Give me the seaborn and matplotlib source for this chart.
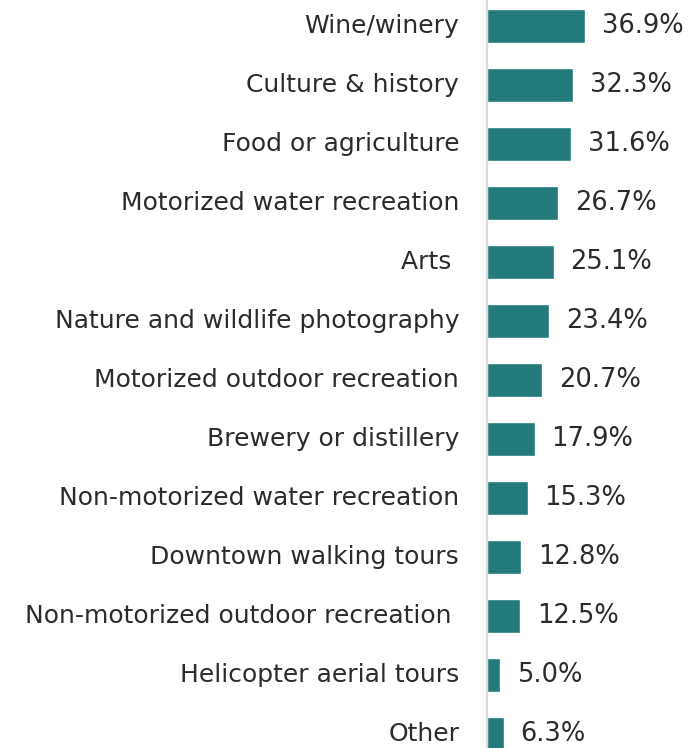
import matplotlib
matplotlib.use("Agg")
import matplotlib.pyplot as plt
import seaborn as sns
import pandas as pd

categories = [
    "Wine/winery",
    "Culture & history",
    "Food or agriculture",
    "Motorized water recreation",
    "Arts ",
    "Nature and wildlife photography",
    "Motorized outdoor recreation",
    "Brewery or distillery",
    "Non-motorized water recreation",
    "Downtown walking tours",
    "Non-motorized outdoor recreation ",
    "Helicopter aerial tours",
    "Other",
]
values = [36.9, 32.3, 31.6, 26.7, 25.1, 23.4, 20.7, 17.9, 15.3, 12.8, 12.5, 5.0, 6.3]

df = pd.DataFrame({"activity": categories, "share": values})

sns.set_theme(style="white")
plt.rcParams["font.family"] = ["DejaVu Sans"]

bar_color = "#237B7B"
text_color = "#2B2B2B"

fig = plt.figure(figsize=(6.92, 7.48), dpi=100)
ax = fig.add_axes([487 / 692, 0, (692 - 487) / 692, 1])

sns.barplot(data=df, x="share", y="activity", orient="h", color=bar_color,
            saturation=1, width=0.576, ax=ax)

ax.set_xlim(0, 77)
ax.set_ylim(12.24, -0.44)
ax.set_xlabel("")
ax.set_ylabel("")
ax.set_xticks([])

for s in ["top", "right", "bottom"]:
    ax.spines[s].set_visible(False)
ax.spines["left"].set_color("#D9D9D9")
ax.spines["left"].set_linewidth(1.5)

ax.tick_params(axis="y", length=0, pad=20, labelsize=18, labelcolor=text_color)
for lbl in ax.get_yticklabels():
    lbl.set_verticalalignment("center")

for i, v in enumerate(values):
    ax.text(v + 6.3, i, f"{v:.1f}%", va="center", ha="left",
            fontsize=18.5, color=text_color)

fig.savefig("out.png", dpi=100)
